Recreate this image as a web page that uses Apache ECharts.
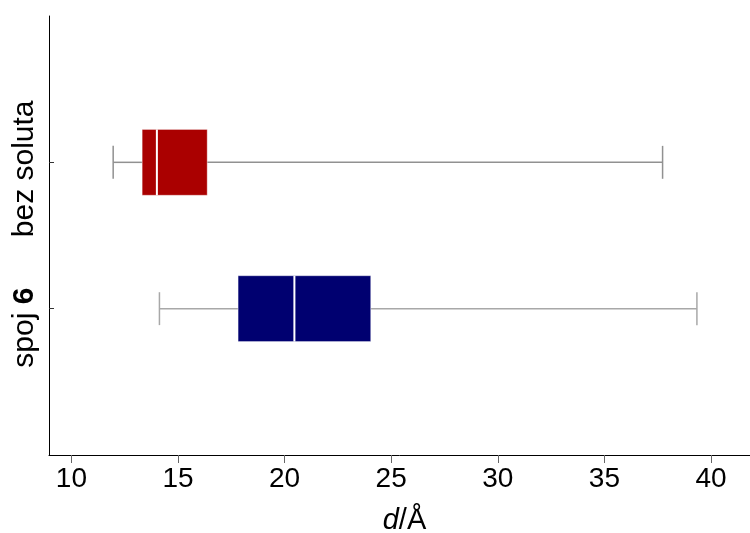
<!DOCTYPE html>
<html>
<head>
<meta charset="utf-8">
<script src="https://cdn.jsdelivr.net/npm/echarts@6/dist/echarts.min.js"></script>
<style>html,body{margin:0;padding:0;background:#fff}#c{width:750px;height:533px}</style>
</head>
<body>
<div id="c"></div>
<script>
// Categories (bottom to top) and their y positions on the axis
const categories = ['spoj 6', 'bez soluta'];
const categoryPos = [1, 2];
// Box plot statistics, d / Å
const whiskerLow = [14.13, 11.96];
const q1 = [17.82, 13.32];
const median = [20.46, 14.01];
const q3 = [24.04, 16.37];
const whiskerHigh = [39.34, 37.73];
// Tick labels of the x axis
const xTicks = [10, 15, 20, 25, 30, 35, 40];

const boxColors = ['#000070', '#aa0000'];
const whiskerColors = ['#a8a8a8', '#919191'];

const data = categories.map((c, i) => [categoryPos[i], whiskerLow[i], q1[i], median[i], q3[i], whiskerHigh[i], i]);

const chart = echarts.init(document.getElementById('c'));
const FONT = 'Liberation Sans, Arial, sans-serif';

chart.setOption({
  animation: false,
  backgroundColor: '#fff',
  grid: { left: 49, top: 16, right: 0, bottom: 78, containLabel: false, outerBoundsMode: 'none' },
  xAxis: {
    type: 'value',
    min: 8.95,
    max: 41.83,
    name: '{i|d}{r|/Å}',
    nameLocation: 'middle',
    nameGap: 51,
    nameTextStyle: {
      fontFamily: FONT, fontSize: 29, color: '#000',
      rich: {
        i: { fontFamily: FONT, fontSize: 29, fontStyle: 'italic', color: '#000', padding: [0, 0, 0, 10] },
        r: { fontFamily: FONT, fontSize: 29, color: '#000' }
      }
    },
    axisLine: { show: true, onZero: false, lineStyle: { color: '#000', width: 1 } },
    axisTick: { show: true, length: 8, lineStyle: { color: '#666' }, customValues: xTicks },
    axisLabel: { customValues: xTicks, fontFamily: FONT, fontSize: 28, color: '#000', margin: 10 },
    splitLine: { show: false }
  },
  yAxis: {
    type: 'value',
    min: 0,
    max: 3,
    axisLine: { show: true, onZero: false, lineStyle: { color: '#000', width: 1 } },
    axisTick: { show: true, inside: true, length: 5, lineStyle: { color: '#333' }, customValues: categoryPos },
    axisLabel: {
      customValues: categoryPos,
      rotate: 90,
      margin: 9,
      fontFamily: FONT,
      fontSize: 30,
      color: '#000',
      formatter: v => {
        const idx = categoryPos.indexOf(v);
        const name = categories[idx] || '';
        if (name === 'spoj 6') return '{n|spoj }{b|6}';
        return '{m|' + name + '}';
      },
      rich: {
        n: { fontFamily: FONT, fontSize: 30, color: '#000' },
        b: { fontFamily: FONT, fontSize: 30, fontWeight: 'bold', color: '#000', padding: [0, 38, 0, 0] },
        m: { fontFamily: FONT, fontSize: 30, color: '#000', padding: [0, 13, 0, 0] }
      }
    },
    splitLine: { show: false }
  },
  series: [{
    type: 'custom',
    data: data,
    encode: { y: 0, x: [1, 2, 3, 4, 5] },
    renderItem: function (params, api) {
      const y = api.value(0);
      const i = api.value(6);
      const lo = api.coord([api.value(1), y]);
      const a = api.coord([api.value(2), y]);
      const m = api.coord([api.value(3), y]);
      const b = api.coord([api.value(4), y]);
      const hi = api.coord([api.value(5), y]);
      const band = api.size([0, 1])[1];
      const boxH = band * 0.45;
      const capH = boxH * 0.5;
      const wc = whiskerColors[i];
      const ws = { stroke: wc, lineWidth: 1.5, fill: null };
      return {
        type: 'group',
        children: [
          { type: 'line', shape: { x1: lo[0], y1: lo[1], x2: a[0], y2: a[1] }, style: ws },
          { type: 'line', shape: { x1: b[0], y1: b[1], x2: hi[0], y2: hi[1] }, style: ws },
          { type: 'line', shape: { x1: lo[0], y1: lo[1] - capH / 2, x2: lo[0], y2: lo[1] + capH / 2 }, style: ws },
          { type: 'line', shape: { x1: hi[0], y1: hi[1] - capH / 2, x2: hi[0], y2: hi[1] + capH / 2 }, style: ws },
          { type: 'rect', shape: { x: a[0], y: a[1] - boxH / 2, width: b[0] - a[0], height: boxH },
            style: { fill: boxColors[i], stroke: 'rgba(255,255,255,0.35)', lineWidth: 1 } },
          { type: 'line', shape: { x1: m[0], y1: m[1] - boxH / 2, x2: m[0], y2: m[1] + boxH / 2 },
            style: { stroke: '#fff', lineWidth: 2 } }
        ]
      };
    }
  }]
});
</script>
</body>
</html>
